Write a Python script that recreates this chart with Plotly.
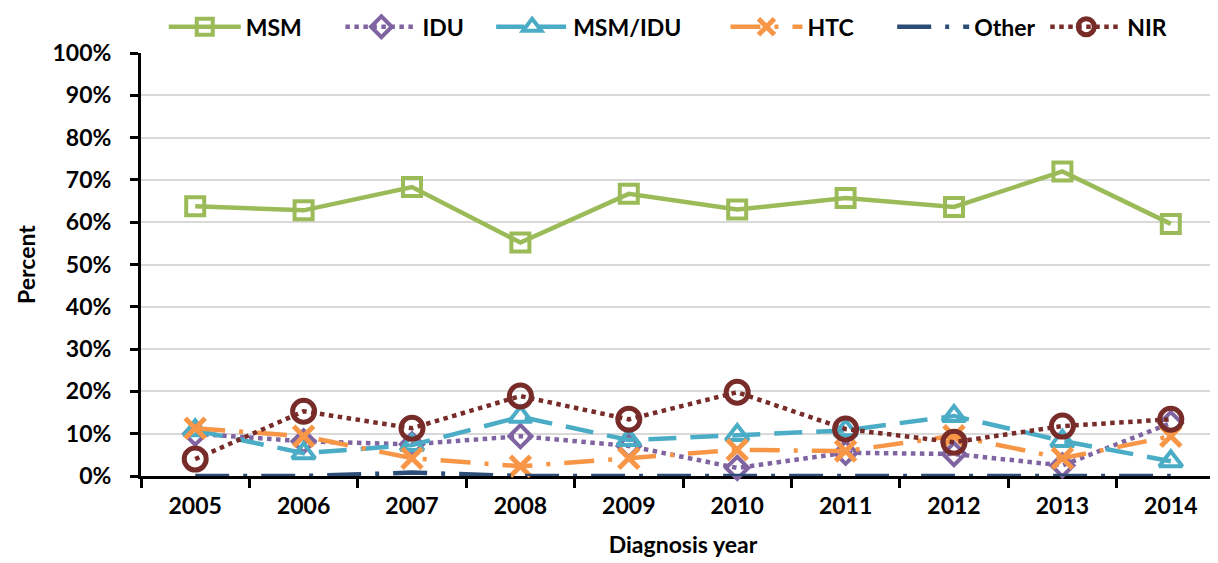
import plotly.graph_objects as go

# =========================
# DATA
# =========================
years = ["2005", "2006", "2007", "2008", "2009", "2010", "2011", "2012", "2013", "2014"]
msm = [63.8, 62.8, 68.3, 55.2, 66.7, 63.0, 65.7, 63.6, 72.0, 59.6]
idu = [10.0, 8.2, 7.5, 9.4, 7.1, 1.9, 5.5, 5.2, 2.5, 12.5]
msm_idu = [10.8, 5.4, 7.3, 14.0, 8.5, 9.7, 10.8, 14.2, 8.3, 3.5]
htc = [11.3, 9.4, 4.2, 2.3, 4.2, 6.2, 5.9, 9.5, 4.2, 9.4]
other = [0, 0, 0.8, 0, 0, 0, 0, 0, 0, 0]
nir = [4.0, 15.3, 11.3, 18.9, 13.4, 19.8, 11.1, 8.0, 11.8, 13.4]

FONT = "Lato"

# trailing spaces to spread the legend like the original
PAD = {"MSM": 6, "IDU": 4, "MSM/IDU": 7, "HTC": 6, "Other": 1, "NIR": 0}

# =========================
# FIGURE
# =========================
fig = go.Figure()

series = [
    ("MSM", msm, "#9BBB59", "solid", "square-open", 18, 4),
    ("IDU", idu, "#8064A2", "dot", "diamond-open", 17, 4),
    ("MSM/IDU", msm_idu, "#4BACC6", "28px,14px", "triangle-up-open", 20, 4),
    ("HTC", htc, "#F79646", "30px,14px,4px,14px", "x-thin-open", 20, 5),
    ("Other", other, "#2C4D75", "34px,14px,4px,14px", None, 0, 0),
    ("NIR", nir, "#772C2A", "dot", "circle-open", 22, 5),
]

for name, vals, color, dash, symbol, size, mw in series:
    kw = dict(mode="lines")
    if symbol:
        kw = dict(
            mode="lines+markers",
            marker=dict(symbol=symbol, size=size, color=color,
                        line=dict(color=color, width=mw)),
        )
    fig.add_trace(go.Scatter(
        x=years, y=vals, name=name + "&nbsp;" * PAD[name],
        line=dict(color=color, width=4.5, dash=dash),
        cliponaxis=False,
        **kw
    ))

fig.update_layout(
    width=1218, height=563,
    margin=dict(l=133, r=1, t=45, b=95, autoexpand=False),
    plot_bgcolor="white",
    paper_bgcolor="white",
    font=dict(family=FONT, size=23, color="black", weight="bold"),
    legend=dict(
        orientation="h", x=0.021, xanchor="left", y=1.062, yanchor="middle",
        font=dict(size=23, family=FONT, weight="bold"),
        itemwidth=72, traceorder="normal",
    ),
    xaxis=dict(
        type="category",
        tickson="boundaries",
        ticks="outside", ticklen=9, tickwidth=3, tickcolor="black",
        ticklabelstandoff=7,
        showline=True, linecolor="black", linewidth=3,
        showgrid=False,
        layer="below traces",
        title=dict(text="Diagnosis year", font=dict(size=23, weight="bold"), standoff=20),
        range=[-0.5, 9.5],
    ),
    yaxis=dict(
        range=[0, 100], dtick=10, ticksuffix="%",
        ticks="outside", ticklen=8, tickwidth=3, tickcolor="black",
        ticklabelstandoff=14,
        showline=True, linecolor="black", linewidth=3,
        showgrid=True, gridcolor="#D9D9D9", gridwidth=2,
        zeroline=False,
        layer="below traces",
        title=dict(text="Percent", font=dict(size=23, weight="bold"), standoff=11),
    ),
)

fig.write_html("out.html")
